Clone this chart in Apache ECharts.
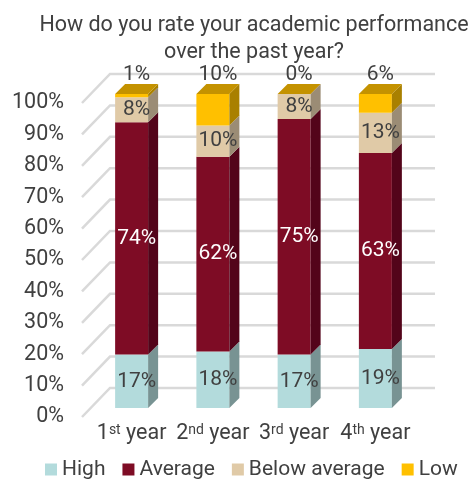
<!DOCTYPE html>
<html><head><meta charset="utf-8">
<script src="https://cdn.jsdelivr.net/npm/echarts@6/dist/echarts.min.js"></script>
<style>html,body{margin:0;padding:0;background:#fff}#c{width:469px;height:479px}</style>
</head><body><div id="c"></div>
<script>
const categories = ['1st year', '2nd year', '3rd year', '4th year'];
const high = [17, 18, 17, 19];
const average = [74, 62, 75, 63];
const belowAverage = [8, 10, 8, 13];
const low = [1, 10, 0, 6];
const yTicks = [0, 10, 20, 30, 40, 50, 60, 70, 80, 90, 100];
const seriesNames = ['High', 'Average', 'Below average', 'Low'];

const FONT = 'Roboto';
const TXT = '#404040';
const palette = [
  { front: '#b3dbdc', side: '#789393', top: '#8fb0b0', label: TXT },
  { front: '#7e0c25', side: '#53041a', top: '#650a1e', label: '#ffffff' },
  { front: '#e0caa7', side: '#9b8c75', top: '#b5a386', label: TXT },
  { front: '#ffc000', side: '#a98000', top: '#c49200', label: TXT }
];
const allSeries = [high, average, belowAverage, low];

function buildData(k) {
  return categories.map((c, i) => {
    const total = allSeries.reduce((s, arr) => s + arr[i], 0);
    let below = 0;
    for (let j = 0; j < k; j++) below += allSeries[j][i];
    const b = below / total * 100;
    const t = (below + allSeries[k][i]) / total * 100;
    return [i, b, t, allSeries[k][i]];
  });
}

const D = 10; // bar depth (px)
const LABEL_FONT = '21px ' + FONT;
function makeBarSeries(k) {
  const pal = palette[k];
  return {
    type: 'custom',
    name: seriesNames[k],
    xAxisIndex: 0, yAxisIndex: 0,
    itemStyle: { color: pal.front },
    encode: { x: 0, y: [1, 2] },
    data: buildData(k),
    z: 5 + k,
    renderItem: function (params, api) {
      const i = api.value(0), b = api.value(1), t = api.value(2), v = api.value(3);
      const pb = api.coord([i, b]);
      const pt = api.coord([i, t]);
      const w = api.size([1, 0])[0] * 0.406;
      const x0 = pb[0] - w / 2, x1 = pb[0] + w / 2;
      const yb = pb[1], yt = pt[1];
      const children = [
        { type: 'rect', shape: { x: x0, y: yt, width: w, height: yb - yt }, style: { fill: pal.front } },
        { type: 'polygon', shape: { points: [[x1, yt], [x1 + D, yt - D], [x1 + D, yb - D], [x1, yb]] }, style: { fill: pal.side } }
      ];
      if (k === 3) {
        children.push({ type: 'polygon', shape: { points: [[x0, yt], [x1, yt], [x1 + D, yt - D], [x0 + D, yt - D]] }, style: { fill: pal.top } });
        const ytop = api.coord([i, 100])[1];
        children.push({ type: 'text', x: pb[0] + 5, y: ytop - 19, style: { text: v + '%', fill: pal.label, font: LABEL_FONT, align: 'center', verticalAlign: 'middle' } });
      } else {
        children.push({ type: 'text', x: pb[0] + 5, y: (yb + yt) / 2, style: { text: v + '%', fill: pal.label, font: LABEL_FONT, align: 'center', verticalAlign: 'middle' } });
      }
      return { type: 'group', children: children };
    }
  };
}

const gridSeries = {
  type: 'custom',
  name: 'grid',
  xAxisIndex: 1, yAxisIndex: 1,
  encode: { x: 0, y: 1 },
  data: yTicks.map(v => [0, v]),
  z: 1,
  silent: true,
  renderItem: function (params, api) {
    const y = api.coord([0, api.value(1)])[1];
    const x = params.coordSys.x, W = params.coordSys.width;
    return {
      type: 'polyline',
      shape: { points: [[x, y], [x + 28, y - 29], [x + 28 + W, y - 29]] },
      style: { stroke: '#d9d9d9', lineWidth: 2.5, fill: null }
    };
  }
};

const chart = echarts.init(document.getElementById('c'), null, { renderer: 'canvas' });
chart.setOption({
  animation: false,
  backgroundColor: '#ffffff',
  textStyle: { fontFamily: FONT },
  title: {
    text: 'How do you rate your academic performance\nover the past year?',
    left: 249, top: 7, textAlign: 'center',
    textStyle: { fontFamily: FONT, fontSize: 21.5, fontWeight: 'normal', color: TXT, lineHeight: 27 }
  },
  legend: {
    data: seriesNames,
    icon: 'rect', itemWidth: 12, itemHeight: 12, itemGap: 17,
    left: 45, top: 459, width: 424, padding: 0,
    textStyle: { fontFamily: FONT, fontSize: 21, color: TXT }
  },
  grid: [
    { left: 91, right: 53, top: 94, bottom: 71 },
    { left: 82, right: 62, top: 103, bottom: 62 }
  ],
  xAxis: [
    {
      type: 'category', gridIndex: 0, data: categories,
      axisLine: { show: false }, axisTick: { show: false },
      axisLabel: {
        margin: 15, interval: 0,
        formatter: function (val) {
          const m = val.match(/^(\d+)(st|nd|rd|th) (.*)$/);
          return '{n|' + m[1] + '}{s|' + m[2] + '}{n| ' + m[3] + '}';
        },
        rich: {
          n: { fontFamily: FONT, fontSize: 21.5, color: TXT, lineHeight: 22 },
          s: { fontFamily: FONT, fontSize: 14, color: TXT, lineHeight: 14, verticalAlign: 'top' }
        }
      }
    },
    { type: 'category', gridIndex: 1, data: categories, show: false }
  ],
  yAxis: [
    { type: 'value', gridIndex: 0, min: 0, max: 100, show: false },
    {
      type: 'value', gridIndex: 1, min: 0, max: 100, interval: 10,
      axisLine: { show: false }, axisTick: { show: false }, splitLine: { show: false },
      axisLabel: { formatter: '{value}%', fontFamily: FONT, fontSize: 21.5, color: TXT, margin: 18 }
    }
  ],
  series: [gridSeries, makeBarSeries(0), makeBarSeries(1), makeBarSeries(2), makeBarSeries(3)]
});
</script>
</body></html>
